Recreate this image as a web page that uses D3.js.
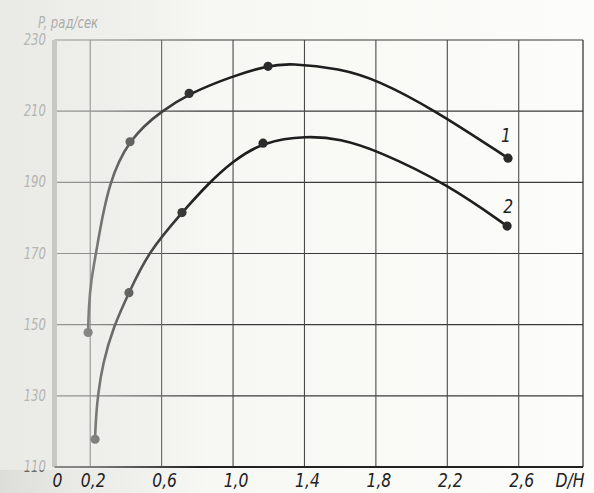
<!DOCTYPE html>
<html lang="ru">
<head>
<meta charset="UTF-8">
<title>P(D/H)</title>
<script src="https://cdn.jsdelivr.net/npm/d3@7/dist/d3.min.js"></script>
<style>
  body { margin: 0; background: #fbfbf8; }
  svg { display: block; }
</style>
</head>
<body>
<div id="chart"></div>
<script>
// значения
const xTicks = [0, 0.2, 0.6, 1.0, 1.4, 1.8, 2.2, 2.6];
const yTicks = [110, 130, 150, 170, 190, 210, 230];
const xGrid = [0.2, 0.6, 1.0, 1.4, 1.8, 2.2, 2.6];

// кривая 1 (ход линии)
const curve1D = [0.188, 0.192, 0.205, 0.232, 0.27, 0.311, 0.36, 0.423, 0.50, 0.591, 0.754, 1.00, 1.196, 1.32, 1.60, 1.807, 2.12, 2.54];
const curve1P = [147.8, 155.0, 162.5, 170.0, 181.0, 189.6, 196.0, 201.4, 205.8, 209.6, 215.0, 219.9, 222.8, 223.5, 222.0, 218.8, 210.6, 196.8];
// кривая 2 (ход линии)
const curve2D = [0.227, 0.232, 0.244, 0.27, 0.328, 0.417, 0.524, 0.714, 0.86, 1.00, 1.168, 1.415, 1.60, 1.807, 2.204, 2.535];
const curve2P = [117.8, 124.0, 130.6, 139.0, 149.2, 159.0, 170.3, 181.5, 189.6, 196.0, 201.4, 203.1, 202.2, 199.0, 189.4, 177.7];

// опытные точки
const points1D = [0.188, 0.423, 0.754, 1.196, 2.54];
const points1P = [147.8, 201.4, 215.0, 222.6, 196.8];
const points2D = [0.227, 0.417, 0.714, 1.168, 2.535];
const points2P = [117.8, 159.0, 181.5, 201.0, 177.7];

const width = 594, height = 493;
const svg = d3.select("#chart").append("svg")
    .attr("width", width)
    .attr("height", height);

const x = d3.scaleLinear().domain([0, 2.96]).range([54.5, 583]);
const y = d3.scaleLinear().domain([110, 230]).range([467, 40]);

// фон скана
const defs = svg.append("defs");
const bg = defs.append("linearGradient").attr("id", "bg");
bg.append("stop").attr("offset", "0").attr("stop-color", "#dcdcd8");
bg.append("stop").attr("offset", "0.12").attr("stop-color", "#e9e9e5");
bg.append("stop").attr("offset", "0.35").attr("stop-color", "#f7f7f3");
bg.append("stop").attr("offset", "1").attr("stop-color", "#fcfcfa");
svg.append("rect").attr("width", width).attr("height", height).attr("fill", "url(#bg)");

const fmt = v => v === 0 ? "0" : d3.format(".1f")(v).replace(".", ",");

// сетка
svg.append("g").selectAll("line").data(yTicks).join("line")
    .attr("x1", x(0)).attr("x2", x(2.96))
    .attr("y1", d => y(d)).attr("y2", d => y(d))
    .attr("stroke", "#3a3a3a")
    .attr("stroke-width", 1.2);

svg.append("g").selectAll("line").data(xGrid).join("line")
    .attr("x1", d => x(d)).attr("x2", d => x(d))
    .attr("y1", y(230)).attr("y2", y(110))
    .attr("stroke", "#4a4a4a")
    .attr("stroke-width", 1.1);

// правая граница
svg.append("line")
    .attr("x1", x(2.96)).attr("x2", x(2.96))
    .attr("y1", y(230)).attr("y2", y(110))
    .attr("stroke", "#3a3a3a").attr("stroke-width", 1.3);

// оси
svg.append("line")
    .attr("x1", x(0)).attr("x2", x(0))
    .attr("y1", y(230)).attr("y2", y(110))
    .attr("stroke", "#9a9a96").attr("stroke-width", 5);
svg.append("line")
    .attr("x1", x(0)).attr("x2", x(2.96))
    .attr("y1", y(110)).attr("y2", y(110))
    .attr("stroke", "#222").attr("stroke-width", 2);

// кривые
const line = d3.line()
    .x(d => x(d[0]))
    .y(d => y(d[1]))
    .curve(d3.curveBasis);

const curves = [
    d3.zip(curve1D, curve1P),
    d3.zip(curve2D, curve2P)
];
svg.append("g").selectAll("path").data(curves).join("path")
    .attr("d", line)
    .attr("fill", "none")
    .attr("stroke", "#1e1e1e")
    .attr("stroke-width", 2.6);

const pts = d3.zip(points1D, points1P).concat(d3.zip(points2D, points2P));
svg.append("g").selectAll("circle").data(pts).join("circle")
    .attr("cx", d => x(d[0]))
    .attr("cy", d => y(d[1]))
    .attr("r", 4.6)
    .attr("fill", "#2a2a2a");

// подписи
const label = (tx, ty, txt, size, anchor, color) =>
    svg.append("text")
        .attr("transform", `translate(${tx},${ty}) scale(0.78,1)`)
        .attr("text-anchor", anchor)
        .attr("font-family", "DejaVu Sans, sans-serif")
        .attr("font-style", "italic")
        .attr("font-size", size)
        .attr("fill", color)
        .text(txt);

xTicks.forEach(v => label(x(v) + 3, 487, fmt(v), 20, "middle", "#222"));
label(570, 487, "D/H", 20, "middle", "#222");

yTicks.forEach(v => label(46, y(v) + 5, String(v), 15, "end", "#6a6a6a"));
label(38, 28, "P, рад/сек", 15, "start", "#6a6a6a");

label(x(points1D[4]) - 2, y(points1P[4]) - 16, "1", 20, "middle", "#222");
label(x(points2D[4]) + 1, y(points2P[4]) - 13, "2", 20, "middle", "#222");

// выцветание левого края скана
const fade = defs.append("linearGradient").attr("id", "fade");
fade.append("stop").attr("offset", "0").attr("stop-color", "#f2f2ee").attr("stop-opacity", 0.6);
fade.append("stop").attr("offset", "0.45").attr("stop-color", "#f2f2ee").attr("stop-opacity", 0.45);
fade.append("stop").attr("offset", "1").attr("stop-color", "#f2f2ee").attr("stop-opacity", 0);
svg.append("rect").attr("x", 0).attr("y", 0).attr("width", 200).attr("height", 470)
    .attr("fill", "url(#fade)");
</script>
</body>
</html>
